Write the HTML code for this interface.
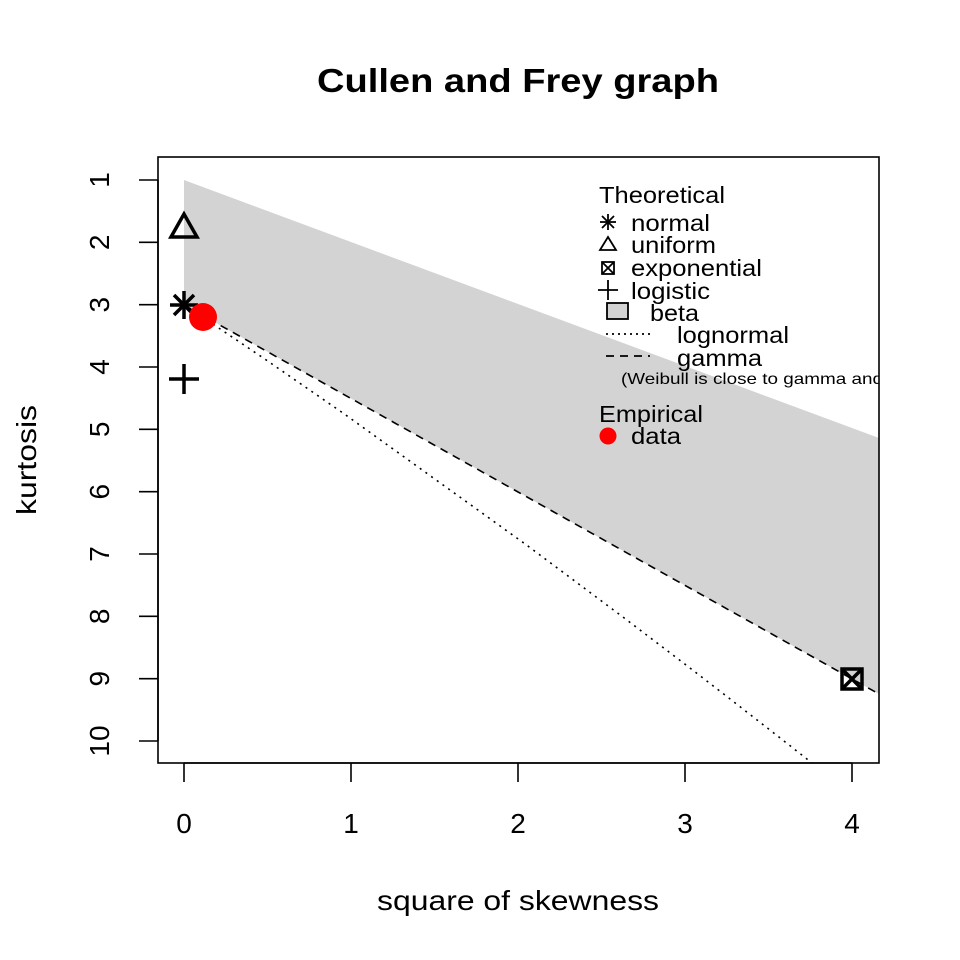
<!DOCTYPE html>
<html><head><meta charset="utf-8"><style>body{margin:0;background:#fff}svg{display:block}</style></head><body>
<svg width="960" height="960" viewBox="0 0 960 960" font-family="Liberation Sans, sans-serif">
<defs><clipPath id="c"><rect x="158" y="157" width="721" height="606"/></clipPath></defs>
<text x="518" y="92" font-size="33" font-weight="bold" text-anchor="middle" textLength="402" lengthAdjust="spacingAndGlyphs">Cullen and Frey graph</text>
<g clip-path="url(#c)">
<polygon points="184,180 879,438 879,694 184,305" fill="#d3d3d3"/>
<line x1="184" y1="305" x2="879" y2="694" stroke="#000" stroke-width="1.6" stroke-dasharray="8,6"/>
<polyline points="184,304.7 261.7,356.9 344.5,414.1 526,544.6 624.9,618.5 687,665.7 729.6,698.6 773,732.4 795.1,749.7 817.4,767.3" fill="none" stroke="#000" stroke-width="1.6" stroke-dasharray="2,5"/>
<text x="621" y="384" font-size="16" textLength="262" lengthAdjust="spacingAndGlyphs">(Weibull is close to gamma and</text>
</g>
<rect x="158" y="157" width="721" height="606" fill="none" stroke="#000" stroke-width="1.6"/>
<g stroke="#000" stroke-width="1.6">
<line x1="184" y1="763" x2="852" y2="763"/>
<line x1="184" y1="763" x2="184" y2="782"/><line x1="351" y1="763" x2="351" y2="782"/><line x1="518" y1="763" x2="518" y2="782"/><line x1="685" y1="763" x2="685" y2="782"/><line x1="852" y1="763" x2="852" y2="782"/>
<line x1="158" y1="180" x2="158" y2="741"/>
<line x1="139" y1="180" x2="158" y2="180"/><line x1="139" y1="242.3" x2="158" y2="242.3"/><line x1="139" y1="304.7" x2="158" y2="304.7"/><line x1="139" y1="367" x2="158" y2="367"/><line x1="139" y1="429.3" x2="158" y2="429.3"/><line x1="139" y1="491.7" x2="158" y2="491.7"/><line x1="139" y1="554" x2="158" y2="554"/><line x1="139" y1="616.3" x2="158" y2="616.3"/><line x1="139" y1="678.7" x2="158" y2="678.7"/><line x1="139" y1="741" x2="158" y2="741"/>
</g>
<g font-size="28" text-anchor="middle">
<text x="184" y="833">0</text><text x="351" y="833">1</text><text x="518" y="833">2</text><text x="685" y="833">3</text><text x="852" y="833">4</text>
<g transform="rotate(-90)">
<text x="-180" y="109">1</text><text x="-242.3" y="109">2</text><text x="-304.7" y="109">3</text><text x="-367" y="109">4</text><text x="-429.3" y="109">5</text><text x="-491.7" y="109">6</text><text x="-554" y="109">7</text><text x="-616.3" y="109">8</text><text x="-678.7" y="109">9</text><text x="-741" y="109">10</text>
<text x="-460" y="36" textLength="110" lengthAdjust="spacingAndGlyphs">kurtosis</text>
</g>
<text x="518" y="910" textLength="282" lengthAdjust="spacingAndGlyphs">square of skewness</text>
</g>
<g stroke="#000" stroke-width="3.5" fill="none">
<polygon points="184,214 171,237 197,237"/>
<line x1="170" y1="305" x2="198" y2="305"/><line x1="184" y1="291" x2="184" y2="319"/><line x1="174" y1="295" x2="194" y2="315"/><line x1="174" y1="315" x2="194" y2="295"/>
<line x1="169" y1="379" x2="199" y2="379"/><line x1="184" y1="364" x2="184" y2="394"/>
<rect x="842" y="669" width="20" height="20"/><line x1="842" y1="669" x2="862" y2="689"/><line x1="842" y1="689" x2="862" y2="669"/>
</g>
<circle cx="203" cy="317" r="14" fill="#f00"/>
<g font-size="23">
<text x="599" y="203" textLength="126" lengthAdjust="spacingAndGlyphs">Theoretical</text>
<text x="631" y="231" textLength="79" lengthAdjust="spacingAndGlyphs">normal</text>
<text x="631" y="253" textLength="85" lengthAdjust="spacingAndGlyphs">uniform</text>
<text x="631" y="276" textLength="131" lengthAdjust="spacingAndGlyphs">exponential</text>
<text x="631" y="299" textLength="79" lengthAdjust="spacingAndGlyphs">logistic</text>
<text x="650" y="321" textLength="49" lengthAdjust="spacingAndGlyphs">beta</text>
<text x="677" y="343" textLength="112" lengthAdjust="spacingAndGlyphs">lognormal</text>
<text x="677" y="366" textLength="85" lengthAdjust="spacingAndGlyphs">gamma</text>
<text x="599" y="422" textLength="104" lengthAdjust="spacingAndGlyphs">Empirical</text>
<text x="631" y="444" textLength="50" lengthAdjust="spacingAndGlyphs">data</text>
</g>
<g stroke="#000" stroke-width="1.8" fill="none">
<line x1="600" y1="222" x2="616" y2="222"/><line x1="608" y1="214" x2="608" y2="230"/><line x1="602" y1="216" x2="614" y2="228"/><line x1="602" y1="228" x2="614" y2="216"/>
<polygon points="608,237 600,250 616,250"/>
<rect x="602" y="262" width="12" height="12"/><line x1="602" y1="262" x2="614" y2="274"/><line x1="602" y1="274" x2="614" y2="262"/>
<line x1="598" y1="290" x2="618" y2="290"/><line x1="608" y1="280" x2="608" y2="300"/>
<rect x="607" y="303" width="21" height="16" fill="#d3d3d3"/>
<line x1="606" y1="334" x2="650" y2="334" stroke-dasharray="2,4"/>
<line x1="606" y1="356" x2="650" y2="356" stroke-dasharray="8,6"/>
</g>
<circle cx="608" cy="436" r="8.5" fill="#f00"/>
</svg>
</body></html>
